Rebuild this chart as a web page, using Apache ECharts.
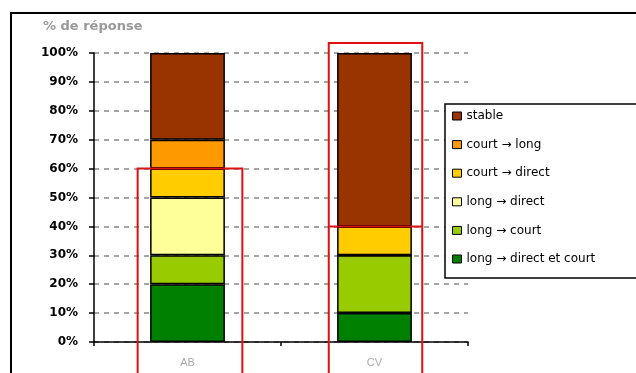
<!DOCTYPE html>
<html>
<head>
<meta charset="utf-8">
<script src="https://cdn.jsdelivr.net/npm/echarts@6/dist/echarts.min.js"></script>
<style>
  html, body { margin: 0; padding: 0; background: #fff; }
  #chart { width: 636px; height: 373px; }
</style>
</head>
<body>
<div id="chart"></div>
<script>
// Categories and stacked shares (% of responses), bottom segment first
const categories = ['AB', 'CV'];
const longDirectCourt = [20, 10];
const longCourt = [10, 20];
const longDirect = [20, 0];
const courtDirect = [10, 10];
const courtLong = [10, 0];
const stable = [30, 60];

const seriesNames = [
  'long → direct et court',
  'long → court',
  'long → direct',
  'court → direct',
  'court → long',
  'stable'
];
const seriesValues = [longDirectCourt, longCourt, longDirect, courtDirect, courtLong, stable];
const seriesColors = ['#008000', '#99CC00', '#FFFF99', '#FFCC00', '#FF9900', '#993300'];

// Legend lists the top segment first
const legendOrder = seriesNames.slice().reverse();

// Highlighted ranges drawn as red frames (value where the frame starts)
const highlightTop = { AB: 60, CV: 103.5 };
const highlightLine = { CV: 40 };

const FONT = '"Liberation Sans", Arial, sans-serif';
const WIDE = '"DejaVu Sans", sans-serif';

const chart = echarts.init(document.getElementById('chart'), null, { renderer: 'canvas' });

const option = {
  animation: false,
  backgroundColor: '#fff',
  grid: { left: 94, right: 168, top: 53, bottom: 31, containLabel: false },
  xAxis: {
    type: 'category',
    data: categories,
    axisLine: { lineStyle: { color: '#000', width: 1.5 } },
    axisTick: { show: true, length: 4, lineStyle: { color: '#000', width: 1.5 } },
    axisLabel: { color: '#aaa', fontFamily: FONT, fontSize: 11, margin: 15 },
    splitLine: { show: false }
  },
  yAxis: {
    type: 'value',
    min: 0,
    max: 100,
    interval: 10,
    axisLine: { show: true, lineStyle: { color: '#000', width: 1.5 } },
    axisTick: { show: true, length: 5, lineStyle: { color: '#000', width: 1.5 } },
    axisLabel: {
      formatter: '{value}%',
      color: '#000',
      fontFamily: WIDE,
      fontSize: 12,
      fontWeight: 'bold',
      margin: 16
    },
    splitLine: { show: true, lineStyle: { color: '#888', width: 1.5, type: [5, 5] } }
  },
  legend: {
    data: legendOrder,
    orient: 'vertical',
    left: 452,
    top: 109,
    padding: 0,
    itemWidth: 9,
    itemHeight: 8,
    itemGap: 14.6,
    icon: 'rect',
    itemStyle: { borderColor: '#000', borderWidth: 1 },
    textStyle: { color: '#000', fontFamily: WIDE, fontSize: 12, lineHeight: 14 },
    selectedMode: false
  },
  series: seriesNames.map((name, i) => ({
    name: name,
    type: 'bar',
    stack: 'total',
    barWidth: '40%',
    data: seriesValues[i],
    itemStyle: { color: seriesColors[i], borderColor: '#000', borderWidth: 1.5 },
    emphasis: { disabled: true }
  }))
};

chart.setOption(option);

// Frames, legend box and highlight outlines positioned from the axis scales
function buildGraphics() {
  const elements = [];
  // outer chart frame
  elements.push({
    type: 'rect',
    shape: { x: 11, y: 13, width: 700, height: 420 },
    style: { fill: null, stroke: '#000', lineWidth: 2 },
    z: 0
  });
  // legend box
  elements.push({
    type: 'rect',
    shape: { x: 445, y: 104, width: 220, height: 174 },
    style: { fill: '#fff', stroke: '#000', lineWidth: 1.5 },
    z: 0
  });
  // axis title
  elements.push({
    type: 'text',
    left: 43,
    top: 20,
    style: { text: '% de réponse', fill: '#999', font: 'bold 13px ' + WIDE },
    z: 10
  });

  const p0 = chart.convertToPixel({ gridIndex: 0 }, [0, 0]);
  const p1 = chart.convertToPixel({ gridIndex: 0 }, [1, 0]);
  const band = p1[0] - p0[0];
  const halfW = { AB: 0.28 * band, CV: 0.25 * band };

  categories.forEach((cat, idx) => {
    const top = chart.convertToPixel({ gridIndex: 0 }, [idx, highlightTop[cat]]);
    const cx = cat === 'AB' ? top[0] + 2.5 : top[0] + 1;
    const w = halfW[cat];
    elements.push({
      type: 'polyline',
      shape: { points: [[cx - w, 380], [cx - w, top[1]], [cx + w, top[1]], [cx + w, 380]] },
      style: { fill: null, stroke: '#DD1111', lineWidth: 2 },
      z: 20
    });
    if (highlightLine[cat] !== undefined) {
      const ly = chart.convertToPixel({ gridIndex: 0 }, [idx, highlightLine[cat]])[1];
      elements.push({
        type: 'line',
        shape: { x1: cx - w, y1: ly, x2: cx + w, y2: ly },
        style: { stroke: '#DD1111', lineWidth: 2 },
        z: 20
      });
    }
  });
  chart.setOption({ graphic: { elements: elements } });
}
buildGraphics();
</script>
</body>
</html>
